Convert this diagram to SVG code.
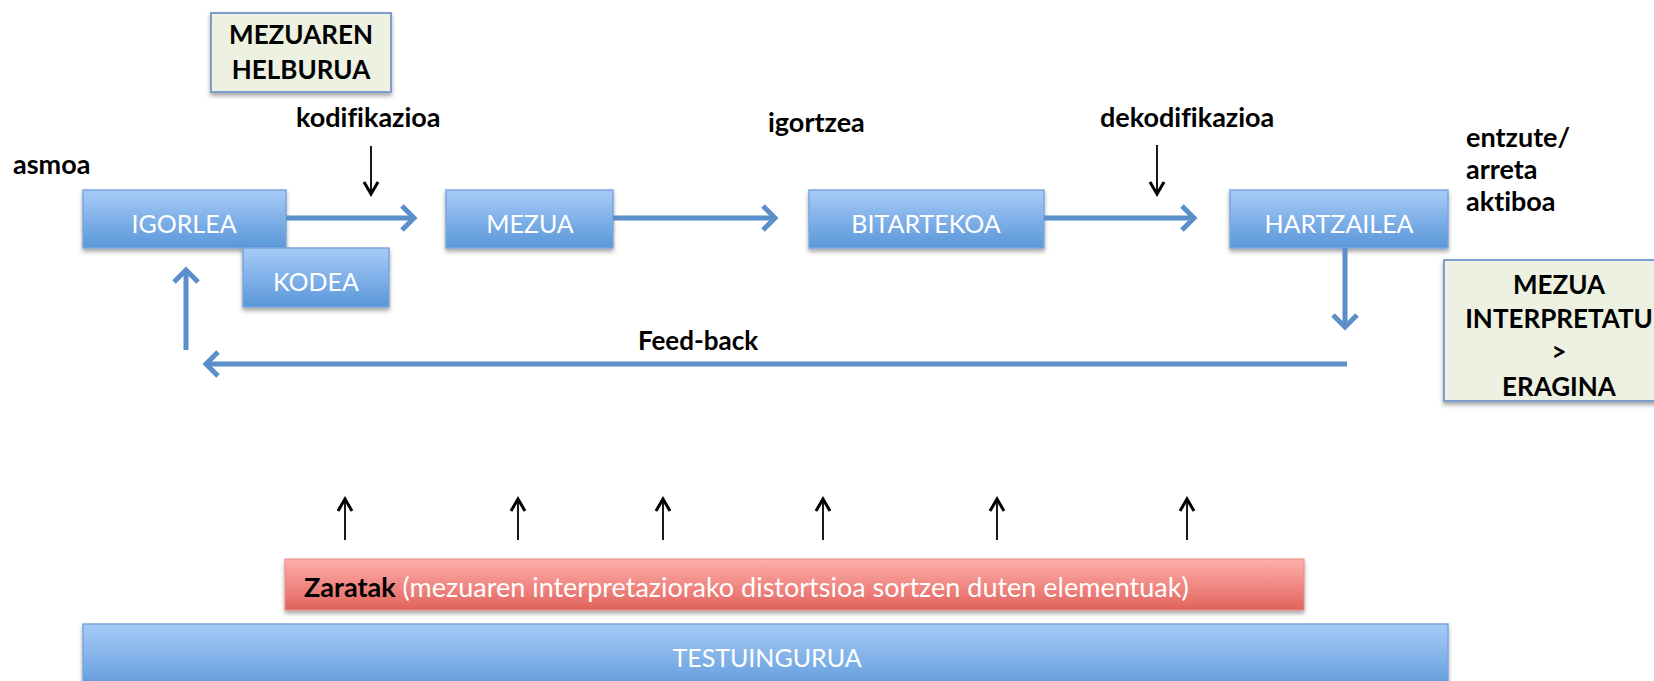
<svg xmlns="http://www.w3.org/2000/svg" width="1654" height="681" viewBox="0 0 1654 681">
<style>
.lbl{font-family:Lato,"Open Sans",sans-serif;font-weight:bold;font-size:27px;fill:#000;font-variant-ligatures:none}
.box{font-family:Lato,"Open Sans",sans-serif;font-size:25px;fill:#fff;text-anchor:middle}
.gbox{font-family:Lato,"Open Sans",sans-serif;font-weight:bold;font-size:26px;fill:#000;text-anchor:middle}
.blue{fill:url(#gb);stroke:#7aa6dc;stroke-width:1.5}
.green{fill:#edf1e2;stroke:#7d9fd0;stroke-width:2}
.barrow{fill:none;stroke:#5b8fc9;stroke-width:5;marker-end:url(#bh)}
.karrow{fill:none;stroke:#000;stroke-width:1.8;marker-end:url(#kh)}
</style>
<defs>
<linearGradient id="gb" x1="0" y1="0" x2="0" y2="1">
<stop offset="0" stop-color="#a8cbf8"/>
<stop offset="1" stop-color="#5997d9"/>
</linearGradient>
<linearGradient id="gr" x1="0" y1="0" x2="0" y2="1">
<stop offset="0" stop-color="#ffb0ac"/>
<stop offset="1" stop-color="#e2625c"/>
</linearGradient>
<filter id="sh" x="-5%" y="-20%" width="110%" height="150%">
<feDropShadow dx="0" dy="3" stdDeviation="2" flood-color="#000" flood-opacity="0.35"/>
</filter>
<marker id="bh" markerWidth="8" markerHeight="10" refX="6" refY="5" orient="auto" markerUnits="userSpaceOnUse" viewBox="0 0 8 10" overflow="visible">
<path d="M-6,-7 L6,5 L-6,17" fill="none" stroke="#5b8fc9" stroke-width="5" stroke-linejoin="miter"/>
</marker>
<marker id="kh" markerWidth="16" markerHeight="16" refX="0" refY="0" orient="auto" markerUnits="userSpaceOnUse" viewBox="-8 -8 16 16" overflow="visible">
<path d="M-12,-7 L0,0 L-12,7" fill="none" stroke="#000" stroke-width="3" stroke-linejoin="miter"/>
</marker>
</defs>
<rect width="1654" height="681" fill="#fff"/>

<g id="helburua">
<rect class="green" x="211" y="13" width="180" height="79" filter="url(#sh)"/>
<text class="gbox" x="301" y="44">MEZUAREN</text>
<text class="gbox" x="301" y="79">HELBURUA</text>
</g>

<g id="labels">
<text class="lbl" x="13" y="174">asmoa</text>
<text class="lbl" x="296" y="127">kodifikazioa</text>
<text class="lbl" x="768" y="132">igortzea</text>
<text class="lbl" x="1100" y="127">dekodifikazioa</text>
<text class="lbl" x="1466" y="147">entzute/</text>
<text class="lbl" x="1466" y="179">arreta</text>
<text class="lbl" x="1466" y="211">aktiboa</text>
<text class="lbl" x="698" y="350" text-anchor="middle" style="font-size:26px">Feed-back</text>
</g>

<g id="testuingurua">
<rect class="blue" x="83" y="624" width="1365" height="70" filter="url(#sh)"/>
<text class="box" x="767" y="667">TESTUINGURUA</text>
</g>

<g id="zaratak">
<rect x="285" y="559" width="1019" height="51" fill="url(#gr)" stroke="#e58a86" stroke-width="1" filter="url(#sh)"/>
<text x="304" y="597" style="font-family:Lato,'Open Sans',sans-serif;font-size:27px"><tspan font-weight="bold" fill="#000">Zaratak</tspan><tspan fill="#fff"> (mezuaren interpretaziorako distortsioa sortzen duten elementuak)</tspan></text>
</g>

<g id="igorlea">
<rect class="blue" x="83" y="190" width="203" height="58" filter="url(#sh)"/>
<text class="box" x="184" y="233">IGORLEA</text>
</g>
<g id="kodea">
<rect class="blue" x="243" y="248" width="146" height="59" filter="url(#sh)"/>
<text class="box" x="316" y="291">KODEA</text>
</g>
<g id="mezua">
<rect class="blue" x="446" y="190" width="167" height="58" filter="url(#sh)"/>
<text class="box" x="530" y="233">MEZUA</text>
</g>
<g id="bitartekoa">
<rect class="blue" x="809" y="190" width="235" height="58" filter="url(#sh)"/>
<text class="box" x="926" y="233">BITARTEKOA</text>
</g>
<g id="hartzailea">
<rect class="blue" x="1230" y="190" width="218" height="58" filter="url(#sh)"/>
<text class="box" x="1339" y="233">HARTZAILEA</text>
</g>

<g id="eragina">
<rect class="green" x="1444" y="260" width="230" height="141" filter="url(#sh)"/>
<text class="gbox" x="1559" y="294">MEZUA</text>
<text class="gbox" x="1559" y="328">INTERPRETATU</text>
<text class="gbox" x="1559" y="361">&gt;</text>
<text class="gbox" x="1559" y="396">ERAGINA</text>
</g>

<g id="connectors">
<path class="barrow" d="M286,218 H414"/>
<path class="barrow" d="M613,218 H775"/>
<path class="barrow" d="M1044,218 H1194"/>
<path class="barrow" d="M1345,248 V327"/>
<path class="barrow" d="M1347,364 H206"/>
<path class="barrow" d="M186,350 V270"/>
<path class="karrow" d="M371,146 V194"/>
<path class="karrow" d="M1157,145 V194"/>
<path class="karrow" d="M345,540 V499"/>
<path class="karrow" d="M518,540 V499"/>
<path class="karrow" d="M663,540 V499"/>
<path class="karrow" d="M823,540 V499"/>
<path class="karrow" d="M997,540 V499"/>
<path class="karrow" d="M1187,540 V499"/>
</g>
</svg>
